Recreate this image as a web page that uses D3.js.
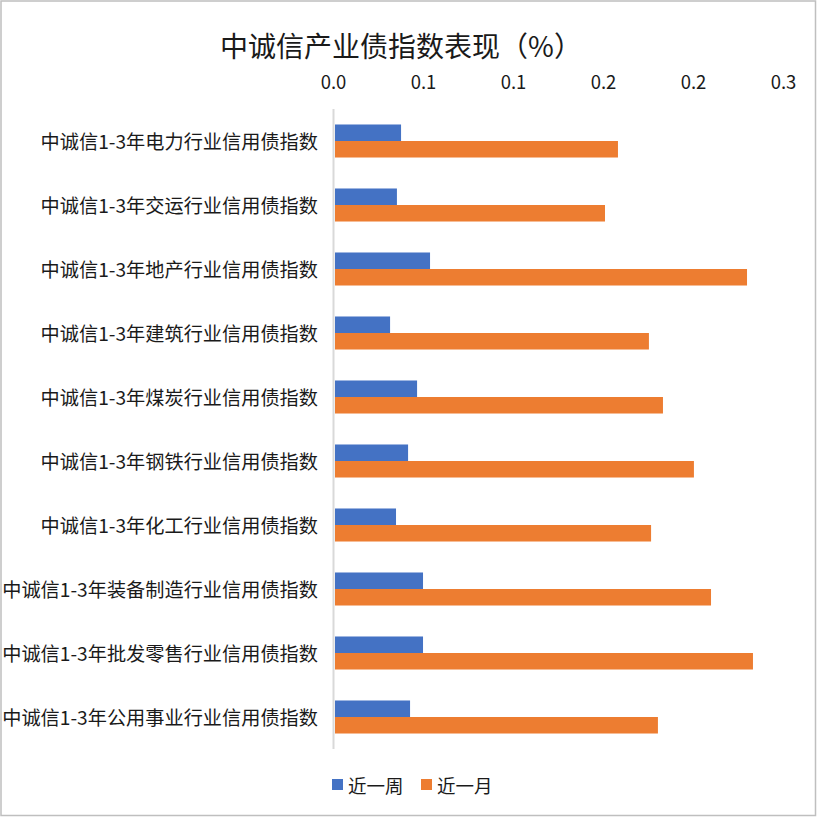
<!DOCTYPE html>
<html>
<head>
<meta charset="utf-8">
<script src="https://cdn.jsdelivr.net/npm/d3@7"></script>
<style>
  body { margin: 0; background: white; }
  text { font-family: "Noto Sans CJK SC", "Noto Sans", sans-serif; fill: #1a1a1a; }
</style>
</head>
<body>
<div id="chart"></div>
<script>
// datos
var categorias = [
  "中诚信1-3年电力行业信用债指数",
  "中诚信1-3年交运行业信用债指数",
  "中诚信1-3年地产行业信用债指数",
  "中诚信1-3年建筑行业信用债指数",
  "中诚信1-3年煤炭行业信用债指数",
  "中诚信1-3年钢铁行业信用债指数",
  "中诚信1-3年化工行业信用债指数",
  "中诚信1-3年装备制造行业信用债指数",
  "中诚信1-3年批发零售行业信用债指数",
  "中诚信1-3年公用事业行业信用债指数"
];
var series = ["近一周", "近一月"];
var semana = [0.0367, 0.0344, 0.0528, 0.0306, 0.0456, 0.0406, 0.0339, 0.0489, 0.0489, 0.0417];
var mes    = [0.1572, 0.1500, 0.2289, 0.1744, 0.1822, 0.1994, 0.1756, 0.2089, 0.2322, 0.1794];
var tickValues = [0, 0.05, 0.10, 0.15, 0.20, 0.25];
var tickLabels = ["0.0", "0.1", "0.1", "0.2", "0.2", "0.3"];
var titulo = "中诚信产业债指数表现（%）";

var chart_width  = 817;
var chart_height = 817;
var colores = ["#4472C4", "#ED7D31"];

var margin = { top: 109, bottom: 68, left: 335, right: 32 };

var svg = d3.select("#chart")
    .append("svg")
    .attr("width", chart_width)
    .attr("height", chart_height);

// fondo y borde
svg.append("rect")
    .attr("x", 1).attr("y", 1)
    .attr("width", 814.5).attr("height", 814.5)
    .style("fill", "white")
    .style("stroke", "#bfbfbf")
    .style("stroke-width", 1.5);

svg.append("text")
    .attr("x", 401)
    .attr("y", 45)
    .attr("text-anchor", "middle")
    .attr("dominant-baseline", "central")
    .style("font-size", "28px")
    .text(titulo);

// escalas
var escalaX = d3.scaleLinear()
    .domain([0, 0.25])
    .range([margin.left, chart_width - margin.right]);

var escalaY = d3.scaleBand()
    .domain(categorias)
    .range([margin.top, chart_height - margin.bottom])
    .paddingInner(0.484)
    .paddingOuter(0.242);

var escalaSerie = d3.scaleBand()
    .domain(series)
    .range([0, escalaY.bandwidth()]);

// eje X (arriba, sin linea)
var ejeX = d3.axisTop(escalaX)
    .tickValues(tickValues)
    .tickSize(0)
    .tickFormat(function(d, i) { return tickLabels[i]; });

var gX = svg.append("g")
    .attr("transform", "translate(-2," + 81 + ")")
    .call(ejeX);
gX.select(".domain").remove();
gX.selectAll("text")
    .attr("y", 0)
    .attr("dy", null)
    .attr("dominant-baseline", "central")
    .style("font-size", "18.5px")
    .style("font-family", "\"Noto Sans CJK SC\", sans-serif")
    .style("fill", "#1a1a1a");

// eje Y
svg.append("line")
    .attr("x1", escalaX(0) - 1.5)
    .attr("x2", escalaX(0) - 1.5)
    .attr("y1", margin.top)
    .attr("y2", chart_height - margin.bottom)
    .style("stroke", "#d9d9d9")
    .style("stroke-width", 2);

svg.append("g")
    .selectAll("text")
    .data(categorias)
    .join("text")
    .attr("x", 318)
    .attr("y", function(d) { return escalaY(d) + escalaY.bandwidth() / 2; })
    .attr("text-anchor", "end")
    .attr("dominant-baseline", "central")
    .style("font-size", "19.2px")
    .text(function(d) { return d; });

// barras
var filas = categorias.map(function(c, i) {
  return { cat: c, valores: [semana[i], mes[i]] };
});

var grupos = svg.append("g")
    .selectAll("g")
    .data(filas)
    .join("g")
    .attr("transform", function(d) { return "translate(0," + escalaY(d.cat) + ")"; });

grupos.selectAll("rect")
    .data(function(d) { return d.valores.map(function(v, j) { return { serie: series[j], v: v, j: j }; }); })
    .join("rect")
    .attr("x", escalaX(0))
    .attr("y", function(d) { return escalaSerie(d.serie); })
    .attr("width", function(d) { return escalaX(d.v) - escalaX(0); })
    .attr("height", escalaSerie.bandwidth())
    .style("fill", function(d) { return colores[d.j]; });

// leyenda
var legendX = [332, 421];
var leyenda = svg.append("g")
    .selectAll("g")
    .data(series)
    .join("g")
    .attr("transform", function(d, i) { return "translate(" + legendX[i] + ",779)"; });

leyenda.append("rect")
    .attr("width", 11)
    .attr("height", 11)
    .style("fill", function(d, i) { return colores[i]; });

leyenda.append("text")
    .attr("x", 16)
    .attr("y", 5.5)
    .attr("dominant-baseline", "central")
    .style("font-size", "18.5px")
    .text(function(d) { return d; });
</script>
</body>
</html>
